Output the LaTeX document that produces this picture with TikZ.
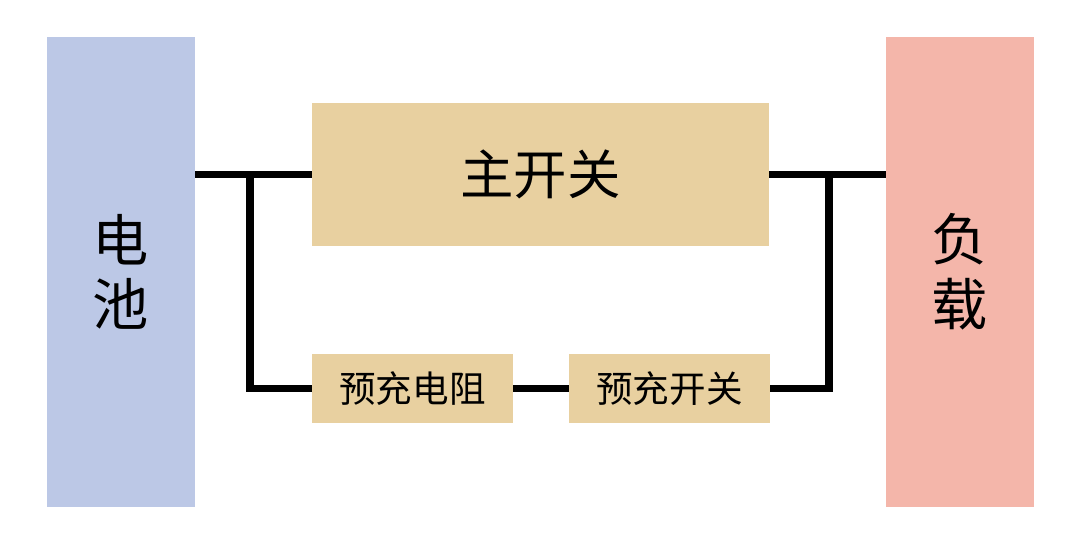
\documentclass[tikz,border=0pt]{standalone}
\usepackage{fontspec}
\usepackage{xcolor}
\usepackage{tikz}
\newfontfamily\cjk{Noto Sans CJK SC}
\definecolor{battblue}{RGB}{188,200,230}
\definecolor{loadred}{RGB}{244,182,170}
\definecolor{switchtan}{RGB}{232,208,160}

\begin{document}
\begin{tikzpicture}[x=0.025cm, y=-0.025cm,
	block/.style={inner sep=0pt, outer sep=0pt, font=\cjk},
	wire/.style={line width=5pt}]

\useasboundingbox (0,0) rectangle (1080,559);

\node[block, fill=battblue, minimum width=3.7cm, minimum height=11.75cm,
	font=\cjk\fontsize{40}{46}\selectfont, align=center] (bat) at (121,272) {电\\池};
\node[block, fill=loadred, minimum width=3.7cm, minimum height=11.75cm,
	font=\cjk\fontsize{40}{46}\selectfont, align=center] (load) at (960,272) {负\\载};

\node[block, fill=switchtan, minimum width=11.425cm, minimum height=3.575cm,
	font=\cjk\fontsize{38}{44}\selectfont] (main) at (540.5,174.5) {主开关};
\node[block, fill=switchtan, minimum width=5.025cm, minimum height=1.725cm,
	font=\cjk\fontsize{26}{30}\selectfont] (res) at (412.5,388.5) {预充电阻};
\node[block, fill=switchtan, minimum width=5.025cm, minimum height=1.725cm,
	font=\cjk\fontsize{26}{30}\selectfont] (presw) at (669.5,388.5) {预充开关};

\coordinate (jl) at (250,175);
\coordinate (jr) at (829,175);

\draw[wire] (main.west -| bat.east) -- (main.west);
\draw[wire] (main.east) -- (main.east -| load.west);
\draw[wire] (jl) |- (res.west);
\draw[wire] (res.east) -- (presw.west);
\draw[wire] (presw.east) -| (jr);

\end{tikzpicture}
\end{document}
